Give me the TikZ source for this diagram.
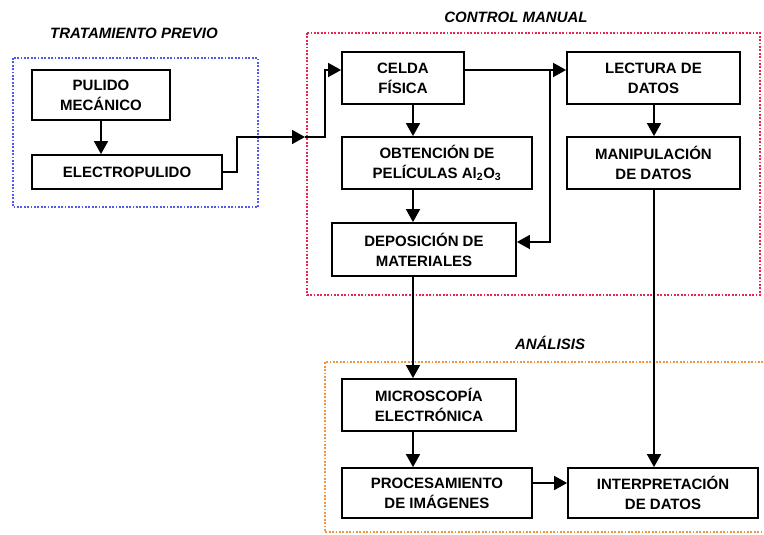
\documentclass[tikz,border=0pt]{standalone}
\usepackage{fontspec}
\setmainfont{Liberation Sans}
\usetikzlibrary{arrows.meta}
\definecolor{gblue}{RGB}{80,90,240}
\definecolor{gred}{RGB}{235,35,85}
\definecolor{gorange}{RGB}{242,150,60}
\begin{document}
\begin{tikzpicture}[x=1pt,y=-1pt,
  box/.style={draw,line width=1.8pt,inner sep=0pt,align=center,
    font=\fontsize{15}{20}\selectfont\bfseries},
  grp/.style={line width=2.6pt,dash pattern=on 1.8pt off 1.6pt},
  lbl/.style={inner sep=0pt,font=\fontsize{15}{18}\selectfont\bfseries\itshape},
  arr/.style={line width=1.7pt,-{Triangle[length=13pt,width=14pt]}},
  ln/.style={line width=1.7pt}]
\useasboundingbox (0,0) rectangle (764,535);
\fill[white] (0,0) rectangle (764,535);
% group frames
\draw[grp,gblue] (13,58) rectangle (258,207);
\draw[grp,gred] (307,33) rectangle (760,295);
\draw[grp,gorange] (770,362) -- (325,362) -- (325,532) -- (770,532);
\node[lbl] (ltp) at (134,33) {TRATAMIENTO PREVIO};
\node[lbl] (lcm) at (516,17) {CONTROL MANUAL};
\node[lbl] (lan) at (550,343) {ANÁLISIS};
% boxes
\node[box,minimum width=138pt,minimum height=50pt] (pul) at (101,95) {PULIDO\\MECÁNICO};
\node[box,minimum width=190pt,minimum height=34pt] (elec) at (127,172) {ELECTROPULIDO};
\node[box,minimum width=122pt,minimum height=52pt] (celda) at (403,78) {CELDA\\FÍSICA};
\node[box,minimum width=173pt,minimum height=52pt] (lect) at (653.5,78) {LECTURA DE\\DATOS};
\node[box,minimum width=190pt,minimum height=52pt] (obt) at (437,163) {OBTENCIÓN DE\\PELÍCULAS Al\textsubscript{2}O\textsubscript{3}};
\node[box,minimum width=173pt,minimum height=52pt] (manip) at (653.5,163) {MANIPULACIÓN\\DE DATOS};
\node[box,minimum width=184pt,minimum height=53pt] (dep) at (424,249.5) {DEPOSICIÓN DE\\MATERIALES};
\node[box,minimum width=174pt,minimum height=52pt] (micro) at (429,405) {MICROSCOPÍA\\ELECTRÓNICA};
\node[box,minimum width=190pt,minimum height=50pt] (proc) at (437,493) {PROCESAMIENTO\\DE IMÁGENES};
\node[box,minimum width=190pt,minimum height=50pt] (interp) at (663,493) {INTERPRETACIÓN\\DE DATOS};
% connectors
\coordinate (entry) at (305,137);
\coordinate (split) at (550,70);
\draw[arr] (pul.south -| 101,0) -- (elec.north -| 101,0);
\draw[arr] (elec.east) -- (237,172) -- (237,137) -- (entry);
\draw[arr] (entry) -- (325,137) -- (325,70) -- (celda.west |- 0,70);
\draw[arr] (celda.east |- 0,70) -- (lect.west |- 0,70);
\draw[arr] (split) -- (550,242) -- (dep.east |- 0,242);
\draw[arr] (celda.south -| 413,0) -- (obt.north -| 413,0);
\draw[arr] (obt.south -| 413,0) -- (dep.north -| 413,0);
\draw[arr] (dep.south -| 413,0) -- (micro.north -| 413,0);
\draw[arr] (micro.south -| 413,0) -- (proc.north -| 413,0);
\draw[arr] (lect.south -| 654,0) -- (manip.north -| 654,0);
\draw[arr] (manip.south -| 654,0) -- (interp.north -| 654,0);
\draw[arr] (proc.east |- 0,483) -- (interp.west |- 0,483);
\end{tikzpicture}
\end{document}
